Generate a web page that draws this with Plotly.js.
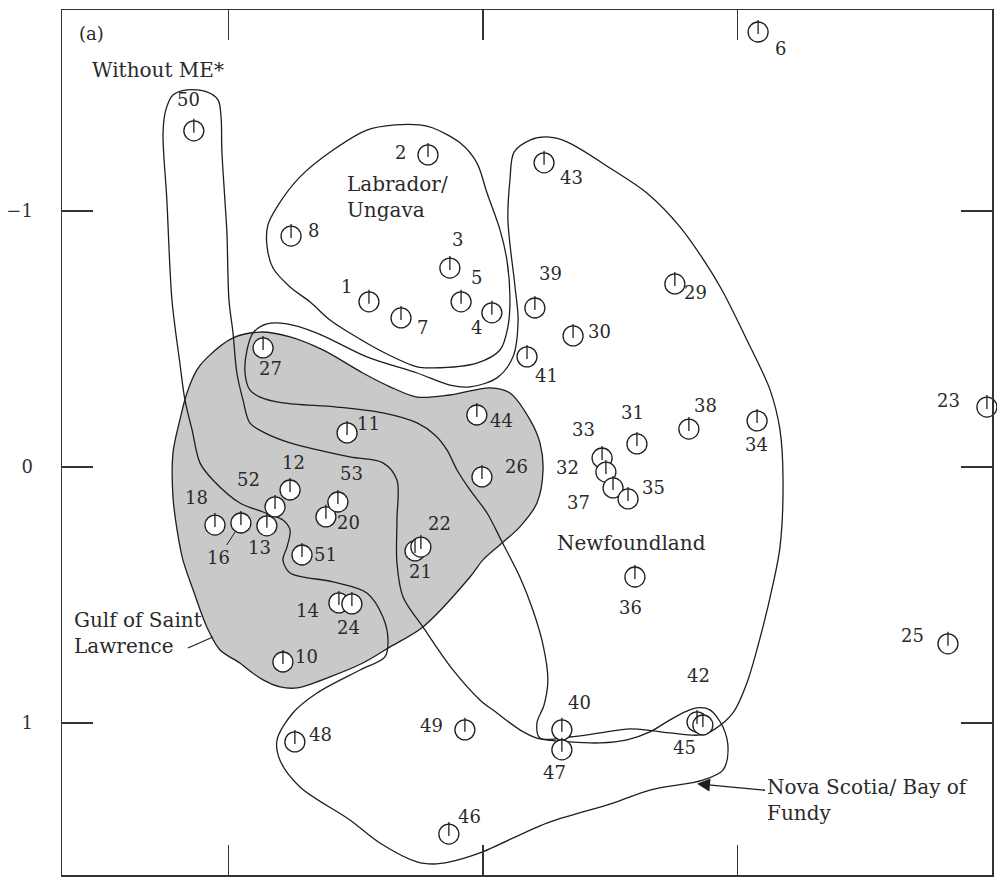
<!DOCTYPE html>
<html><head><meta charset="utf-8">
<script src="https://cdn.plot.ly/plotly-3.0.1.min.js"></script>
<style>html,body{margin:0;padding:0;background:#fff}#chart{width:997px;height:880px}</style>
</head><body><div id="chart"></div>
<script>
// ---- site points (ordination scores) ----
const siteIds = ['50','2','8','3','5','1','7','4','6','43','39','29','30','41','27','11','44','26',
  '31','38','34','33','32','37','35','23','36','18','16','13','52','12','20','53','51','21','22',
  '14','24','10','48','49','46','40','47','42','45','25'];
const siteX = [-1.136,-0.216,-0.754,-0.130,-0.086,-0.448,-0.322,0.035,1.081,0.240,0.204,0.754,0.354,0.173,-0.864,-0.534,-0.024,-0.004,
  0.605,0.809,1.077,0.468,0.483,0.511,0.570,1.980,0.597,-1.053,-0.951,-0.849,-0.817,-0.758,-0.617,-0.570,-0.711,-0.267,-0.244,
  -0.566,-0.515,-0.786,-0.739,-0.071,-0.134,0.310,0.310,0.841,0.864,1.827];
const siteY = [-1.313,-1.219,-0.902,-0.777,-0.645,-0.645,-0.582,-0.602,-1.699,-1.188,-0.621,-0.715,-0.512,-0.430,-0.465,-0.133,-0.203,0.039,
  -0.090,-0.148,-0.180,-0.035,0.020,0.082,0.125,-0.234,0.430,0.227,0.219,0.230,0.156,0.090,0.195,0.137,0.344,0.328,0.313,
  0.531,0.535,0.762,1.074,1.027,1.434,1.027,1.105,0.996,1.008,0.691];

// ---- group outlines ----
const gulfX = [-1.085,-0.982,-0.876,-0.758,-0.629,-0.472,-0.365,-0.259,-0.130,0.028,0.106,0.185,0.224,0.236,0.212,0.145,0.075,0.000,-0.051,-0.236,-0.365,-0.472,-0.601,-0.731,-0.798,-0.864,-0.916,-0.955,-1.033,-1.085,-1.139,-1.179,-1.202,-1.218,-1.218,-1.191,-1.163,-1.124];
const gulfY = [-0.426,-0.504,-0.527,-0.508,-0.457,-0.367,-0.313,-0.273,-0.281,-0.309,-0.289,-0.184,-0.094,0.012,0.141,0.234,0.297,0.363,0.430,0.625,0.703,0.766,0.820,0.863,0.859,0.832,0.797,0.766,0.715,0.625,0.480,0.363,0.246,0.117,-0.055,-0.184,-0.289,-0.379];

const labradorX = [-0.248,-0.196,-0.090,-0.024,0.016,0.067,0.094,0.106,0.098,0.067,-0.024,-0.196,-0.259,-0.393,-0.523,-0.601,-0.680,-0.758,-0.825,-0.849,-0.845,-0.809,-0.719,-0.589,-0.456,-0.346];
const labradorY = [-1.336,-1.324,-1.266,-1.188,-1.070,-0.926,-0.809,-0.664,-0.547,-0.457,-0.406,-0.387,-0.391,-0.449,-0.523,-0.574,-0.645,-0.703,-0.777,-0.867,-0.945,-1.016,-1.133,-1.238,-1.316,-1.336];

const newfoundlandX = [0.106,0.122,0.185,0.251,0.330,0.511,0.644,0.774,0.872,0.939,1.037,1.128,1.167,1.179,1.167,1.139,1.100,1.037,0.982,0.912,0.853,0.735,0.668,0.578,0.460,0.342,0.224,0.212,0.240,0.255,0.236,0.196,0.145,0.075,0.016,-0.051,-0.102,-0.141,-0.189,-0.259,-0.393,-0.574,-0.786,-0.876,-0.916,-0.935,-0.927,-0.904,-0.849,-0.770,-0.652,-0.456,-0.259,-0.130,-0.051,0.055,0.118,0.138,0.126,0.098];
const newfoundlandY = [-1.121,-1.230,-1.277,-1.289,-1.270,-1.160,-1.070,-0.938,-0.801,-0.691,-0.496,-0.301,-0.145,0.051,0.313,0.461,0.625,0.844,0.961,1.023,1.047,1.039,1.031,1.023,1.039,1.055,1.059,1.000,0.930,0.832,0.695,0.559,0.430,0.293,0.180,0.090,0.012,-0.066,-0.125,-0.172,-0.211,-0.234,-0.250,-0.273,-0.301,-0.367,-0.457,-0.523,-0.559,-0.559,-0.523,-0.430,-0.367,-0.320,-0.313,-0.348,-0.430,-0.574,-0.703,-0.965];

const withoutMEX = [-1.163,-1.085,-1.041,-1.029,-1.026,-1.014,-1.006,-0.998,-0.982,-0.967,-0.943,-0.916,-0.857,-0.758,-0.523,-0.393,-0.338,-0.338,-0.338,-0.314,-0.236,-0.118,-0.012,0.055,0.145,0.212,0.342,0.460,0.566,0.656,0.735,0.794,0.841,0.892,0.943,0.963,0.943,0.864,0.656,0.511,0.251,-0.012,-0.130,-0.196,-0.259,-0.405,-0.523,-0.719,-0.798,-0.809,-0.747,-0.652,-0.483,-0.385,-0.373,-0.393,-0.456,-0.589,-0.758,-0.786,-0.770,-0.758,-0.786,-0.864,-0.955,-1.061,-1.112,-1.143,-1.171,-1.191,-1.222,-1.242,-1.257,-1.246,-1.218];
const withoutMEY = [-1.473,-1.465,-1.434,-1.367,-1.238,-1.043,-0.914,-0.652,-0.523,-0.367,-0.262,-0.172,-0.133,-0.094,-0.039,-0.016,0.051,0.207,0.375,0.508,0.625,0.793,0.910,0.961,1.027,1.059,1.074,1.078,1.066,1.035,0.988,0.957,0.941,0.949,1.016,1.105,1.184,1.223,1.262,1.313,1.391,1.508,1.543,1.551,1.543,1.469,1.379,1.250,1.145,1.066,0.961,0.883,0.793,0.742,0.676,0.586,0.492,0.449,0.414,0.363,0.313,0.246,0.207,0.176,0.141,0.051,-0.016,-0.145,-0.262,-0.406,-0.652,-1.043,-1.305,-1.395,-1.453];

// ---- axis ----
const yTickVals = [-1, 0, 1];
const yTickText = ['\u22121', '0', '1'];
const xTickVals = [-1, 0, 1];

// ---- label placement (pixel offsets from each site, layout only) ----
const labelShift = {
  '1':[-22,-15],'2':[-27,-2],'3':[8,-29],'4':[-15,15],'5':[15,-24],'6':[22,16],'7':[21,10],'8':[22,-6],
  '10':[24,-6],'11':[21,-9],'12':[3,-27],'13':[-7,22],'14':[-31,8],'18':[-18,-28],'20':[23,6],'21':[5,21],
  '22':[19,-24],'23':[-38,-7],'24':[-3,24],'25':[-35,-8],'26':[35,-10],'27':[7,21],'29':[21,9],'30':[26,-4],
  '31':[-4,-31],'32':[-38,-5],'33':[-19,-28],'34':[-1,24],'35':[25,-11],'36':[-4,30],'37':[-35,15],'38':[17,-24],
  '39':[16,-34],'40':[18,-27],'41':[19,19],'42':[1,-46],'43':[27,15],'44':[25,6],'45':[-18,23],'46':[21,-18],
  '47':[-7,23],'48':[26,-7],'49':[-33,-4],'50':[-5,-31],'51':[23,-1],'52':[-27,-27],'53':[14,-29]
};

const FONT = 'DejaVu Serif';
const INK = '#1e1e1e';
const close = a => a.concat([a[0]]);
const yRange = [1.594, -1.785];
const tickLift = 0.0195; // ~5 px on the y scale

function outline(xs, ys, extra) {
  return Object.assign({
    type: 'scatter', mode: 'lines', x: close(xs), y: close(ys), hoverinfo: 'skip',
    line: {color: INK, width: 1.3, shape: 'spline', smoothing: 0.9}, showlegend: false
  }, extra || {});
}

const traces = [
  outline(gulfX, gulfY, {fill: 'toself', fillcolor: '#c9c9c9'}),
  outline(labradorX, labradorY),
  outline(newfoundlandX, newfoundlandY),
  outline(withoutMEX, withoutMEY),
  {type: 'scatter', mode: 'markers', x: siteX, y: siteY, hoverinfo: 'skip', showlegend: false, cliponaxis: false,
   marker: {symbol: 'circle', size: 20, color: '#ffffff', line: {color: INK, width: 1.3}}},
  {type: 'scatter', mode: 'markers', x: siteX, y: siteY, yaxis: 'y2', hoverinfo: 'skip', showlegend: false, cliponaxis: false,
   marker: {symbol: 'line-ns-open', size: 10, color: INK, line: {color: INK, width: 1.3}}}
];

const annotations = [];
siteIds.forEach((id, i) => {
  if (id === '16') return;
  const s = labelShift[id];
  annotations.push({x: siteX[i], y: siteY[i], xref: 'x', yref: 'y', text: id, showarrow: false,
    xshift: s[0], yshift: -s[1], font: {family: FONT, size: 18, color: '#2a2a2a'}});
});
const i16 = siteIds.indexOf('16');
annotations.push({x: siteX[i16], y: siteY[i16], xref: 'x', yref: 'y', text: '16', showarrow: true,
  ax: -22, ay: 34, arrowhead: 0, arrowwidth: 1, arrowcolor: INK, standoff: 10,
  font: {family: FONT, size: 18, color: '#2a2a2a'}});

const txt = {family: FONT, size: 20, color: '#2a2a2a'};
annotations.push(
  {x: -1.595, y: -1.695, xref: 'x', yref: 'y', text: '(a)', showarrow: false, xanchor: 'left', font: {family: FONT, size: 18, color: '#2a2a2a'}},
  {x: -1.544, y: -1.551, xref: 'x', yref: 'y', text: 'Without ME*', showarrow: false, xanchor: 'left', font: txt},
  {x: -0.542, y: -1.055, xref: 'x', yref: 'y', text: 'Labrador/<br>Ungava', showarrow: false, xanchor: 'left', align: 'left', font: txt},
  {x: 0.582, y: 0.297, xref: 'x', yref: 'y', text: 'Newfoundland', showarrow: false, font: txt},
  {x: -1.615, y: 0.648, xref: 'x', yref: 'y', text: 'Gulf of Saint<br>Lawrence', showarrow: false, xanchor: 'left', align: 'left', font: txt},
  {x: -1.061, y: 0.664, xref: 'x', yref: 'y', text: ' ', showarrow: true, ax: -27, ay: 12,
   arrowhead: 0, arrowwidth: 1.1, arrowcolor: INK, standoff: 0, font: {family: FONT, size: 2}},
  {x: 0.841, y: 1.238, xref: 'x', yref: 'y', text: 'Nova Scotia/ Bay of<br>Fundy', showarrow: true, align: 'left',
   ax: 170, ay: 16, arrowhead: 2, arrowsize: 2, arrowwidth: 1.3, arrowcolor: INK, standoff: 0, font: txt}
);

const axisCommon = {ticks: 'inside', tickwidth: 1.5, tickcolor: '#333', showline: true, linewidth: 1.5,
  linecolor: '#333', mirror: 'ticks', showgrid: false, zeroline: false, fixedrange: true};

const layout = {
  width: 997, height: 880,
  margin: {l: 62, r: 5, t: 10, b: 5},
  paper_bgcolor: '#ffffff', plot_bgcolor: '#ffffff',
  showlegend: false,
  xaxis: Object.assign({}, axisCommon, {range: [-1.654, 2.0], tickmode: 'array', tickvals: xTickVals, ticklen: 30, showticklabels: false}),
  yaxis: Object.assign({}, axisCommon, {range: yRange, tickmode: 'array', tickvals: yTickVals, ticktext: yTickText,
    ticklen: 31, ticklabelstandoff: 24, tickfont: {family: FONT, size: 18, color: '#333'}}),
  yaxis2: {overlaying: 'y', range: [yRange[0] + tickLift, yRange[1] + tickLift], visible: false, fixedrange: true},
  annotations: annotations
};

Plotly.newPlot('chart', traces, layout, {staticPlot: true, displayModeBar: false});
</script></body></html>
